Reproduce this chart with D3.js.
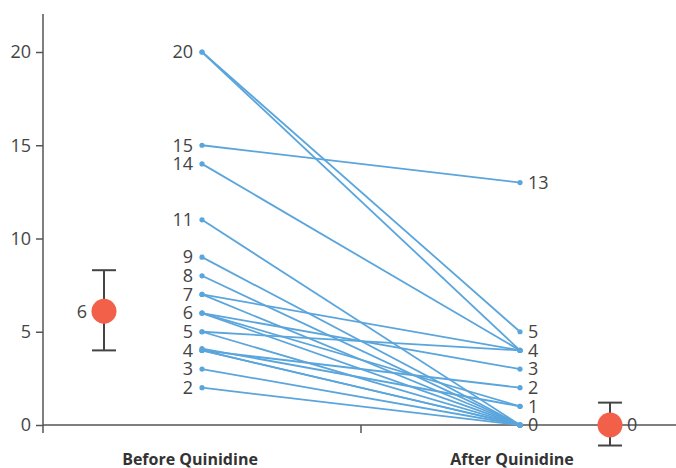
<!DOCTYPE html>
<html>
<head>
<meta charset="utf-8">
<script src="https://cdn.jsdelivr.net/npm/d3@7"></script>
<style>
  body { margin: 0; background: #fff; }
  text { font-family: "Open Sans", "Noto Sans", sans-serif; fill: #444; }
</style>
</head>
<body>
<script>
var w = 676, h = 468;

// groups on the x axis
var groups = ["Before Quinidine", "After Quinidine"];

// paired values, one entry per subject
var before = [20, 20, 15, 14, 11, 9, 8, 7, 7, 6, 6, 6, 5, 5, 4, 4.1, 4, 4, 3, 2];
var after  = [ 5,  4, 13,  4,  0, 0, 0, 4, 0, 3, 1, 0, 4, 0, 2, 1,   0, 0, 0, 0];

// summary marker per group (centre, low, high)
var summaryMid  = [6.1, 0];
var summaryLow  = [4.0, -1.1];
var summaryHigh = [8.3, 1.2];
var summaryLabel = ["6", "0"];

// labels shown next to the points
var beforeLabels = [20, 15, 14, 11, 9, 8, 7, 6, 5, 4, 3, 2];
var afterLabels  = [13, 5, 4, 3, 2, 1, 0];

var yTicks = [0, 5, 10, 15, 20];

var svg = d3.select("body").append("svg")
    .attr("width", w)
    .attr("height", h);

var x = d3.scaleBand()
    .domain(groups)
    .range([43, 679]);

var y = d3.scaleLinear()
    .domain([0, 20])
    .range([425, 52]);

function cx(i){
    return x(groups[i]) + x.bandwidth() / 2;
}

//y axis
var yAxis = svg.append("g")
    .attr("transform", "translate(43,0)")
    .call(d3.axisLeft(y).tickValues(yTicks).tickSize(7).tickPadding(5).tickSizeOuter(0));
yAxis.select(".domain").remove();
yAxis.append("line")
    .attr("y1", 14).attr("y2", 433)
    .attr("stroke", "#555").attr("stroke-width", 1.5);
yAxis.selectAll(".tick line").attr("stroke", "#555").attr("stroke-width", 1.5);
yAxis.selectAll(".tick text")
    .style("font-size", "18px")
    .attr("fill", "#444")
    .style("font-family", "'Open Sans', sans-serif");

//x axis baseline
svg.append("line")
    .attr("x1", 43).attr("x2", w)
    .attr("y1", y(0)).attr("y2", y(0))
    .attr("stroke", "#555").attr("stroke-width", 1.5);

//tick between the groups
svg.append("line")
    .attr("x1", x(groups[1])).attr("x2", x(groups[1]))
    .attr("y1", y(0)).attr("y2", y(0) + 8)
    .attr("stroke", "#555").attr("stroke-width", 1.5);

//group labels
svg.selectAll(".glabel")
    .data(groups)
    .enter()
    .append("text")
    .attr("class", "glabel")
    .attr("x", function(d, i){ return cx(i) - (i === 0 ? 12 : 8); })
    .attr("y", 465)
    .attr("text-anchor", "middle")
    .style("font-size", "16px")
    .style("font-weight", "bold")
    .style("fill", "#333")
    .text(function(d){ return d; });

//paired lines
var pairs = before.map(function(b, i){ return {b: b, a: after[i]}; });

svg.selectAll(".pair")
    .data(pairs)
    .enter()
    .append("line")
    .attr("class", "pair")
    .attr("x1", cx(0))
    .attr("y1", function(d){ return y(d.b); })
    .attr("x2", cx(1))
    .attr("y2", function(d){ return y(d.a); })
    .attr("stroke", "#5aa5dc")
    .attr("stroke-width", 1.8);

//end dots
svg.selectAll(".dotB")
    .data(before)
    .enter()
    .append("circle")
    .attr("cx", cx(0))
    .attr("cy", function(d){ return y(d); })
    .attr("r", 2.6)
    .attr("fill", "#5aa5dc");

svg.selectAll(".dotA")
    .data(after)
    .enter()
    .append("circle")
    .attr("cx", cx(1))
    .attr("cy", function(d){ return y(d); })
    .attr("r", 2.6)
    .attr("fill", "#5aa5dc");

//value labels
svg.selectAll(".blabel")
    .data(beforeLabels)
    .enter()
    .append("text")
    .attr("x", cx(0) - 9)
    .attr("y", function(d){ return y(d); })
    .attr("dy", "0.35em")
    .attr("text-anchor", "end")
    .style("font-size", "18px")
    .text(function(d){ return d; });

svg.selectAll(".alabel")
    .data(afterLabels)
    .enter()
    .append("text")
    .attr("x", cx(1) + 8)
    .attr("y", function(d){ return y(d); })
    .attr("dy", "0.35em")
    .style("font-size", "18px")
    .text(function(d){ return d; });

//summary markers
var offsets = [-98, 90];
var sx = function(i){ return cx(i) + offsets[i]; };

summaryMid.forEach(function(m, i){
    var g = svg.append("g");
    g.append("line")
        .attr("x1", sx(i)).attr("x2", sx(i))
        .attr("y1", y(summaryHigh[i])).attr("y2", y(summaryLow[i]))
        .attr("stroke", "#444").attr("stroke-width", 2);
    [summaryHigh[i], summaryLow[i]].forEach(function(v){
        g.append("line")
            .attr("x1", sx(i) - 12).attr("x2", sx(i) + 12)
            .attr("y1", y(v)).attr("y2", y(v))
            .attr("stroke", "#444").attr("stroke-width", 2);
    });
    g.append("circle")
        .attr("cx", sx(i))
        .attr("cy", y(m))
        .attr("r", 12.5)
        .attr("fill", "#f2604a");
    g.append("text")
        .attr("x", i === 0 ? sx(i) - 17 : sx(i) + 17)
        .attr("y", y(m))
        .attr("dy", "0.35em")
        .attr("text-anchor", i === 0 ? "end" : "start")
        .style("font-size", "18px")
        .text(summaryLabel[i]);
});
</script>
</body>
</html>
